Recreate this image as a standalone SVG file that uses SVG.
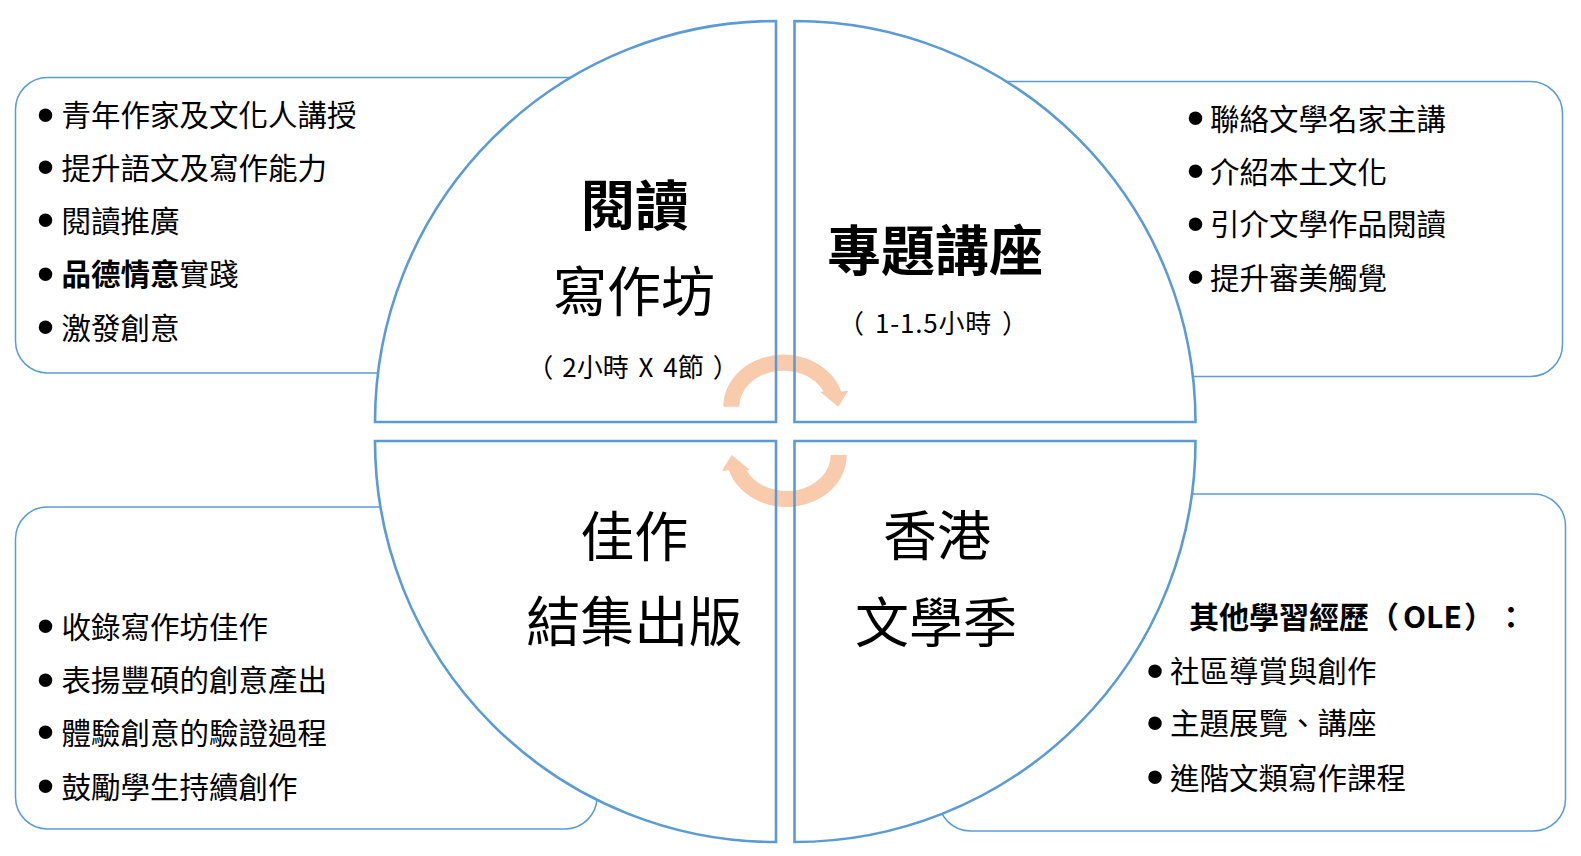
<svg xmlns="http://www.w3.org/2000/svg" xmlns:xlink="http://www.w3.org/1999/xlink" width="1581" height="856" viewBox="0 0 1581 856">
<style>
.box{fill:#fff;stroke:#5B9BD5;stroke-width:1.5}
.qfill{fill:#fff;stroke:none}
.qline{fill:none;stroke:#5B9BD5;stroke-width:2.6;stroke-linejoin:miter}
.t{font-family:"Noto Sans CJK TC","Noto Sans CJK SC",sans-serif;fill:#000;text-spacing-trim:space-all;font-kerning:none}
.item{font-size:29.5px}
.dot{font-family:"Liberation Sans",Arial,sans-serif;font-size:50px}
.b{font-weight:700}
.head{font-size:54px;text-anchor:middle}
.sub{font-size:26px;text-anchor:middle}
.arrow{fill:#F8CBAD}
</style>
<defs>
<path id="q-tl-shape" d="M776,422 L375,422 A401,401 0 0 1 776,21 Z"/>
<path id="q-tr-shape" d="M794.5,422 L794.5,21 A401,401 0 0 1 1195.5,422 Z"/>
<path id="q-bl-shape" d="M776,441 L776,842 A401,401 0 0 1 375,441 Z"/>
<path id="q-br-shape" d="M794.5,441 L1195.5,441 A401,401 0 0 1 794.5,842 Z"/>
<path id="arrow-shape" d="M723.3,406.7 A60.2,52 0 0 1 841.1,391.5 L848.3,390.7 L838.3,406.7 L820,391.7 L823.6,391.5 A44.2,36 0 0 0 739.3,406.7 Z"/>
</defs>

<g id="box-workshop">
<rect class="box" x="15.5" y="77.5" width="684.5" height="295.5" rx="32" ry="32"/>
<text class="t item"><tspan class="dot" x="36.8" y="131.5">•</tspan><tspan x="61.5" y="126.2">青年作家及文化人講授</tspan></text>
<text class="t item"><tspan class="dot" x="36.8" y="184">•</tspan><tspan x="61.5" y="178.7">提升語文及寫作能力</tspan></text>
<text class="t item"><tspan class="dot" x="36.8" y="237.3">•</tspan><tspan x="61.5" y="232">閱讀推廣</tspan></text>
<text class="t item"><tspan class="dot" x="36.8" y="290.7">•</tspan><tspan class="b" x="61.5" y="285.4">品德情意</tspan><tspan>實踐</tspan></text>
<text class="t item"><tspan class="dot" x="36.8" y="344">•</tspan><tspan x="61.5" y="338.7">激發創意</tspan></text>
</g>

<g id="box-lecture">
<rect class="box" x="870" y="81.5" width="692.5" height="295" rx="32" ry="32"/>
<text class="t item"><tspan class="dot" x="1186.8" y="135">•</tspan><tspan x="1210" y="129.7">聯絡文學名家主講</tspan></text>
<text class="t item"><tspan class="dot" x="1186.8" y="188">•</tspan><tspan x="1210" y="182.7">介紹本土文化</tspan></text>
<text class="t item"><tspan class="dot" x="1186.8" y="240.5">•</tspan><tspan x="1210" y="235.2">引介文學作品閱讀</tspan></text>
<text class="t item"><tspan class="dot" x="1186.8" y="294">•</tspan><tspan x="1210" y="288.7">提升審美觸覺</tspan></text>
</g>

<g id="box-publish">
<rect class="box" x="15.5" y="507" width="581.5" height="322" rx="32" ry="32"/>
<text class="t item"><tspan class="dot" x="36.8" y="643">•</tspan><tspan x="61.5" y="637.7">收錄寫作坊佳作</tspan></text>
<text class="t item"><tspan class="dot" x="36.8" y="696.5">•</tspan><tspan x="61.5" y="691.2">表揚豐碩的創意產出</tspan></text>
<text class="t item"><tspan class="dot" x="36.8" y="748.8">•</tspan><tspan x="61.5" y="743.5">體驗創意的驗證過程</tspan></text>
<text class="t item"><tspan class="dot" x="36.8" y="803">•</tspan><tspan x="61.5" y="797.7">鼓勵學生持續創作</tspan></text>
</g>

<g id="box-ole">
<rect class="box" x="938.5" y="494" width="627" height="337" rx="32" ry="32"/>
<text class="t item b" x="1189" y="628" style="font-size:30px">其他學習經歷（<tspan dx="4">OLE</tspan><tspan dx="2">）</tspan><tspan dx="2">：</tspan></text>
<text class="t item"><tspan class="dot" x="1146.3" y="687.5">•</tspan><tspan x="1170" y="682.2">社區導賞與創作</tspan></text>
<text class="t item"><tspan class="dot" x="1146.3" y="739.5">•</tspan><tspan x="1170" y="734.2">主題展覽、講座</tspan></text>
<text class="t item"><tspan class="dot" x="1146.3" y="794">•</tspan><tspan x="1170" y="788.8">進階文類寫作課程</tspan></text>
</g>

<g id="quadrant-backgrounds">
<use xlink:href="#q-tl-shape" href="#q-tl-shape" class="qfill"/>
<use xlink:href="#q-tr-shape" href="#q-tr-shape" class="qfill"/>
<use xlink:href="#q-bl-shape" href="#q-bl-shape" class="qfill"/>
<use xlink:href="#q-br-shape" href="#q-br-shape" class="qfill"/>
</g>

<g id="connectors">
<use xlink:href="#arrow-shape" href="#arrow-shape" class="arrow"/>
<use xlink:href="#arrow-shape" href="#arrow-shape" class="arrow" transform="rotate(180 785 430.85)"/>
</g>

<g id="node-reading-workshop">
<use xlink:href="#q-tl-shape" href="#q-tl-shape" class="qline"/>
<text class="t head b" x="635" y="225.5">閱讀</text>
<text class="t head" x="634" y="312.2">寫作坊</text>
<text class="t sub" x="633" y="376.6" style="word-spacing:4px">（<tspan dx="9">2小時 X 4節</tspan><tspan dx="9">）</tspan></text>
</g>

<g id="node-lectures">
<use xlink:href="#q-tr-shape" href="#q-tr-shape" class="qline"/>
<text class="t head b" x="935" y="270.5">專題講座</text>
<text class="t sub" x="933" y="332.9">（<tspan dx="11" style="letter-spacing:0.8px">1-1.5小時</tspan><tspan dx="10">）</tspan></text>
</g>

<g id="node-publication">
<use xlink:href="#q-bl-shape" href="#q-bl-shape" class="qline"/>
<text class="t head" x="634.3" y="557">佳作</text>
<text class="t head" x="634.3" y="641.7">結集出版</text>
</g>

<g id="node-literature-season">
<use xlink:href="#q-br-shape" href="#q-br-shape" class="qline"/>
<text class="t head" x="937" y="556">香港</text>
<text class="t head" x="936" y="642.7">文學季</text>
</g>
</svg>
